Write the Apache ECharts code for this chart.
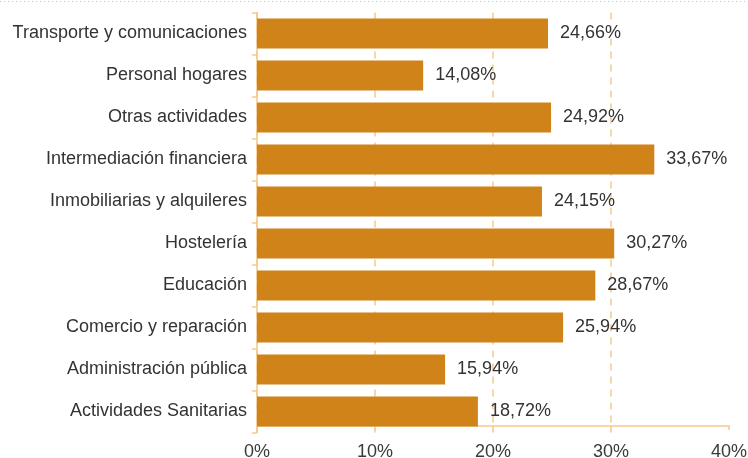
<!DOCTYPE html>
<html>
<head>
<meta charset="utf-8">
<script src="https://cdn.jsdelivr.net/npm/echarts@6/dist/echarts.min.js"></script>
<style>html,body{margin:0;padding:0;background:#fff}#c{width:748px;height:458px}</style>
</head>
<body>
<div id="c"></div>
<script>
const categories = [
  "Transporte y comunicaciones",
  "Personal hogares",
  "Otras actividades",
  "Intermediación financiera",
  "Inmobiliarias y alquileres",
  "Hostelería",
  "Educación",
  "Comercio y reparación",
  "Administración pública",
  "Actividades Sanitarias"
];
const values = [24.66, 14.08, 24.92, 33.67, 24.15, 30.27, 28.67, 25.94, 15.94, 18.72];
const xTicks = [0, 10, 20, 30, 40];

const axisColor = '#f3c98f';
const font = '"Liberation Sans", Arial, sans-serif';
const chart = echarts.init(document.getElementById('c'), null, {renderer: 'canvas'});
chart.setOption({
  animation: false,
  backgroundColor: '#fff',
  graphic: [{
    type: 'line',
    shape: {x1: 0, y1: 1.5, x2: 748, y2: 1.5},
    style: {stroke: '#c8c8c8', lineWidth: 1, lineDash: [1, 3]}
  }],
  grid: {left: 257, right: 19, top: 12.5, bottom: 25.5, containLabel: false, outerBoundsMode: 'none'},
  xAxis: {
    type: 'value',
    min: xTicks[0],
    max: xTicks[xTicks.length - 1],
    interval: 10,
    offset: -6.5,
    axisLine: {show: true, lineStyle: {color: axisColor, width: 1.5}},
    axisTick: {show: true, length: 4, lineStyle: {color: axisColor, width: 1.5}},
    axisLabel: {
      formatter: v => v + '%',
      color: '#3a3a3a', fontSize: 18, fontFamily: font, margin: 17
    },
    splitLine: {show: true, showMaxLine: false, lineStyle: {color: axisColor, type: [7, 6], width: 1.5}}
  },
  yAxis: {
    type: 'category',
    data: categories,
    inverse: true,
    axisLine: {show: true, lineStyle: {color: axisColor, width: 1.5}},
    axisTick: {show: true, length: 5, lineStyle: {color: axisColor, width: 1.5}},
    axisLabel: {color: '#333', fontSize: 18, fontFamily: font, margin: 10}
  },
  series: [{
    type: 'bar',
    data: values,
    barCategoryGap: '28.6%',
    itemStyle: {color: '#d08319'},
    label: {
      show: true,
      position: 'right',
      distance: 12,
      formatter: p => p.value.toFixed(2).replace('.', ',') + '%',
      color: '#333', fontSize: 18, fontFamily: font
    }
  }]
});
</script>
</body>
</html>
